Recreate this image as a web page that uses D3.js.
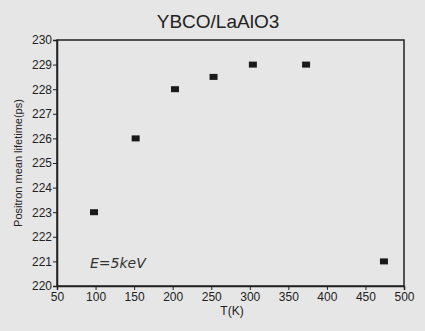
<!DOCTYPE html>
<html>
<head>
<meta charset="utf-8">
<script src="https://cdn.jsdelivr.net/npm/d3@7"></script>
<style>
  body { margin: 0; background: #e6e6e6; }
  svg { display: block; font-family: "Liberation Sans", Arial, sans-serif; }
</style>
</head>
<body>
<svg id="chart" width="425" height="331"></svg>
<script>
// データ
const temps = [98, 152, 203, 253, 304, 373, 474];
const lifetimes = [223, 226, 228, 228.5, 229, 229, 221];
const xTicks = [50, 100, 150, 200, 250, 300, 350, 400, 450, 500];
const yTicks = [220, 221, 222, 223, 224, 225, 226, 227, 228, 229, 230];

const svg = d3.select("#chart");
const ml = 57, mt = 40, pw = 347, ph = 246;

const x = d3.scaleLinear().domain([50, 500]).range([ml, ml + pw]);
const y = d3.scaleLinear().domain([220, 230]).range([mt + ph, mt]);

// タイトル
svg.append("text")
  .attr("x", 218).attr("y", 28)
  .attr("text-anchor", "middle")
  .attr("font-size", "19px")
  .attr("fill", "#222")
  .text("YBCO/LaAlO3");

// 枠
svg.append("rect")
  .attr("x", ml).attr("y", mt)
  .attr("width", pw).attr("height", ph)
  .attr("fill", "none")
  .attr("stroke", "#222")
  .attr("stroke-width", 1.5);

// x 軸
const gx = svg.append("g")
  .attr("transform", `translate(0,${mt + ph})`)
  .call(d3.axisBottom(x).tickValues(xTicks).tickSize(4).tickPadding(2));

// y 軸
const gy = svg.append("g")
  .attr("transform", `translate(${ml},0)`)
  .call(d3.axisLeft(y).tickValues(yTicks).tickSize(4).tickPadding(1));

[gx, gy].forEach(g => {
  g.select(".domain").attr("stroke", "#222").attr("stroke-width", 1.5);
  g.selectAll(".tick line").attr("stroke", "#222");
  g.selectAll(".tick text")
    .attr("font-size", "12px")
    .attr("font-family", "\"Liberation Sans\", Arial, sans-serif")
    .attr("fill", "#222");
});

// 軸ラベル
svg.append("text")
  .attr("x", 232).attr("y", 315)
  .attr("text-anchor", "middle")
  .attr("font-size", "12px")
  .attr("fill", "#222")
  .text("T(K)");

svg.append("text")
  .attr("transform", "translate(22,163) rotate(-90)")
  .attr("text-anchor", "middle")
  .attr("font-size", "11px")
  .attr("fill", "#222")
  .text("Positron mean lifetime(ps)");

// 点
svg.append("g")
  .selectAll("rect")
  .data(temps)
  .enter()
  .append("rect")
  .attr("x", d => x(d) - 4)
  .attr("y", (d, i) => y(lifetimes[i]) - 3)
  .attr("width", 8)
  .attr("height", 6)
  .attr("fill", "#1a1a1a");

// 手書きメモ
svg.append("text")
  .attr("x", 90).attr("y", 268)
  .attr("font-size", "14px")
  .attr("font-style", "italic")
  .attr("font-family", "\"DejaVu Sans\", sans-serif")
  .attr("font-weight", "300")
  .attr("fill", "#333")
  .text("E=5keV");
</script>
</body>
</html>
